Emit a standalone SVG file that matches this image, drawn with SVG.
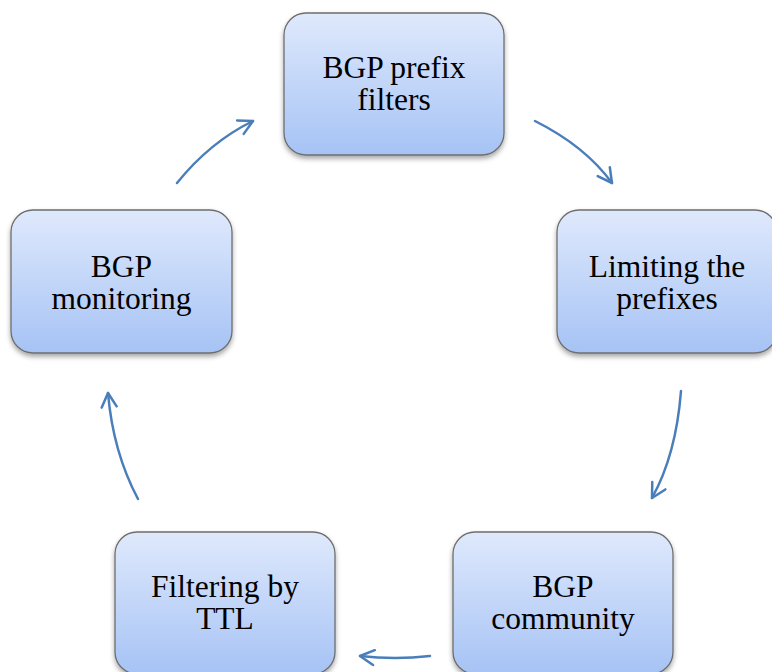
<svg xmlns="http://www.w3.org/2000/svg" width="772" height="672" viewBox="0 0 772 672">
<defs>
<linearGradient id="g" x1="0" y1="0" x2="0" y2="1">
<stop offset="0" stop-color="#dfe9fc"/>
<stop offset="1" stop-color="#a6c3f5"/>
</linearGradient>
<filter id="sh" x="-10%" y="-10%" width="120%" height="130%">
<feDropShadow dx="0" dy="3" stdDeviation="2.5" flood-color="#000" flood-opacity="0.35"/>
</filter>
<marker id="ah" viewBox="0 0 18 18" refX="16" refY="9" markerWidth="18" markerHeight="18" markerUnits="userSpaceOnUse" orient="auto">
<path d="M2,1.5 L16,9 L2,16.5" fill="none" stroke="#4a7ebb" stroke-width="2.5" stroke-linecap="round" stroke-linejoin="round"/>
</marker>
</defs>
<style>
.box{fill:url(#g);stroke:#6e6e6e;stroke-width:1.3;filter:url(#sh)}
.t{font-family:"Liberation Serif","Times New Roman",serif;font-size:31.5px;fill:#000;text-anchor:middle}
.c{fill:none;stroke:#4a7ebb;stroke-width:2.5;stroke-linecap:round;marker-end:url(#ah)}
</style>
<rect width="772" height="672" fill="#fff"/>
<g id="n1">
<rect class="box" x="284" y="13" width="220" height="142" rx="22"/>
<text class="t" x="394" y="78">BGP prefix</text>
<text class="t" x="394" y="110">filters</text>
</g>
<g id="n2">
<rect class="box" x="557" y="210" width="220" height="143" rx="22"/>
<text class="t" x="667" y="277">Limiting the</text>
<text class="t" x="667" y="309">prefixes</text>
</g>
<g id="n3">
<rect class="box" x="453" y="532" width="220" height="142" rx="22"/>
<text class="t" x="563" y="597">BGP</text>
<text class="t" x="563" y="629">community</text>
</g>
<g id="n4">
<rect class="box" x="115" y="532" width="220" height="142" rx="22"/>
<text class="t" x="225" y="597">Filtering by</text>
<text class="t" x="225" y="629">TTL</text>
</g>
<g id="n5">
<rect class="box" x="11" y="210" width="221" height="143" rx="22"/>
<text class="t" x="121.5" y="277">BGP</text>
<text class="t" x="121.5" y="309">monitoring</text>
</g>
<g id="connectors">
<path class="c" d="M535,121 Q585,146 612,183"/>
<path class="c" d="M681,391 Q676,455 652,498"/>
<path class="c" d="M430,656 Q395,660 360,656"/>
<path class="c" d="M138,499 Q113,452 108,393"/>
<path class="c" d="M177,183 Q210,142 253,121"/>
</g>
</svg>
